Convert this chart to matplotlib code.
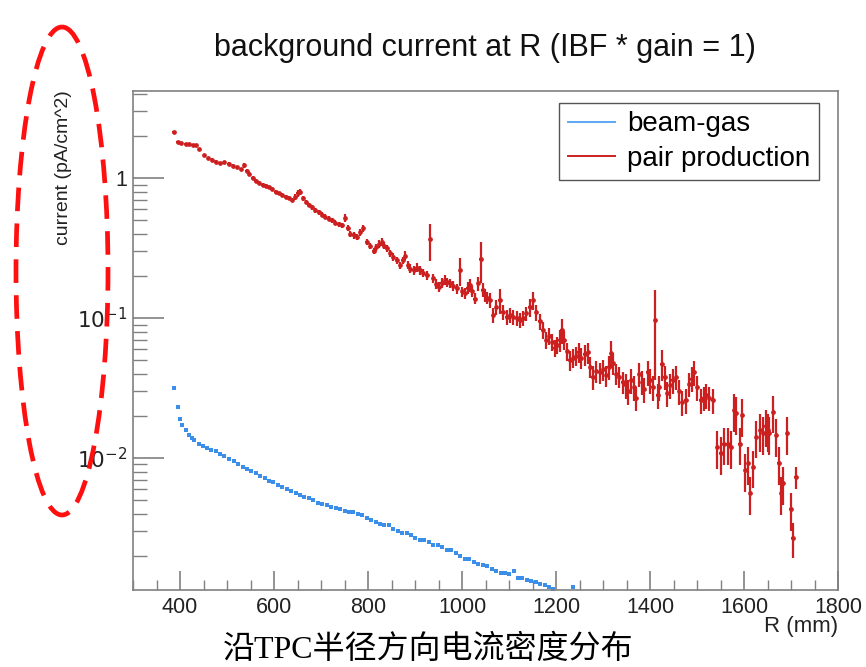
import numpy as np
import matplotlib
matplotlib.use("Agg")
import matplotlib.pyplot as plt
from matplotlib.patches import Ellipse
from matplotlib.ticker import FixedLocator, FuncFormatter, MultipleLocator

plt.rcParams['font.family'] = ['Liberation Sans', 'DejaVu Sans']

# beam-gas (blue), R in mm, current in pA/cm^2
gas_r = [388, 395, 400, 405, 412, 419, 425, 430, 440, 448,
         458, 466, 476, 485, 494, 504, 514, 523, 533, 542,
         552, 561, 570, 580, 589, 598, 608, 617, 627, 636,
         646, 655, 664, 674, 683, 693, 702, 712, 721, 731,
         740, 750, 759, 768, 778, 787, 797, 806, 816, 825,
         835, 844, 854, 863, 873, 882, 892, 901, 911, 920,
         930, 939, 949, 958, 968, 977, 987, 996, 1006, 1015,
         1025, 1034, 1044, 1053, 1063, 1072, 1082, 1091, 1100, 1110,
         1119, 1128, 1138, 1147, 1157, 1166, 1176, 1185, 1194, 1236]
gas_i = [0.0318, 0.0233, 0.0190, 0.0172, 0.0158, 0.0146, 0.0140, 0.0134, 0.0127, 0.0122,
         0.0118, 0.0115, 0.0113, 0.0107, 0.0103, 0.0099, 0.0095, 0.0091, 0.0087, 0.0084,
         0.0081, 0.0078, 0.0075, 0.0072, 0.0069, 0.0067, 0.0064, 0.0062, 0.0060, 0.0058,
         0.0056, 0.0054, 0.0053, 0.0052, 0.0050, 0.0048, 0.0047, 0.0046, 0.0045, 0.0044,
         0.0043, 0.0042, 0.0041, 0.0041, 0.0040, 0.0039, 0.0037, 0.0036, 0.0035, 0.0034,
         0.0033, 0.0033, 0.0031, 0.0030, 0.0029, 0.0029, 0.0028, 0.0027, 0.0026, 0.0026,
         0.0025, 0.0024, 0.0024, 0.0023, 0.0022, 0.0022, 0.0021, 0.0020, 0.0019, 0.0019,
         0.0018, 0.00175, 0.00172, 0.00168, 0.0016, 0.00156, 0.00152, 0.0015, 0.00148, 0.00155,
         0.0014, 0.00138, 0.00135, 0.00132, 0.0013, 0.00126, 0.00123, 0.00119, 0.00116, 0.0012]

# pair production (red) with relative errors
pair_r = [387, 395, 403, 412, 420, 428, 434, 441, 451, 460,
          468, 476, 485, 494, 504, 513, 522, 530, 536, 542,
          547, 555, 561, 568, 576, 584, 590, 596, 604, 610,
          617, 625, 632, 639, 645, 650, 656, 662, 668, 674,
          681, 688, 695, 702, 709, 716, 723, 730, 738, 745,
          752, 757, 762, 770, 777, 784, 790, 797, 805, 812,
          818, 824, 830, 835, 840, 847, 854, 861, 868, 874,
          879, 885, 890, 897, 904, 911, 918, 925, 932, 939,
          945, 950, 957, 964, 969, 974, 981, 989, 996, 1001,
          1006, 1012, 1017, 1022, 1027, 1034, 1040, 1044, 1049, 1054,
          1059, 1066, 1073, 1080, 1087, 1095, 1102, 1109, 1116, 1123,
          1130, 1137, 1144, 1151, 1158, 1165, 1172, 1179, 1186, 1192,
          1197, 1203, 1208, 1212, 1218, 1224, 1229, 1236, 1243, 1248,
          1254, 1261, 1268, 1273, 1278, 1286, 1293, 1300, 1307, 1312,
          1317, 1322, 1328, 1335, 1342, 1348, 1353, 1360, 1366, 1370,
          1377, 1383, 1388, 1395, 1400, 1406, 1411, 1416, 1420, 1425,
          1431, 1437, 1443, 1448, 1456, 1462, 1469, 1476, 1483, 1489,
          1494, 1501, 1508, 1514, 1519, 1526, 1533, 1543, 1550, 1557,
          1565, 1572, 1579, 1584, 1591, 1596, 1603, 1609, 1613, 1620,
          1626, 1635, 1641, 1646, 1650, 1654, 1662, 1669, 1674, 1679,
          1683, 1692, 1699, 1704, 1710]
pair_i = [2.14, 1.82, 1.78, 1.75, 1.76, 1.73, 1.72, 1.62, 1.46, 1.40,
          1.35, 1.31, 1.28, 1.30, 1.27, 1.23, 1.20, 1.16, 1.24, 1.13,
          1.08, 1.00, 0.96, 0.93, 0.90, 0.88, 0.86, 0.84, 0.80, 0.78,
          0.76, 0.74, 0.72, 0.70, 0.74, 0.78, 0.80, 0.72, 0.68, 0.64,
          0.62, 0.59, 0.57, 0.55, 0.53, 0.515, 0.50, 0.48, 0.47, 0.46,
          0.52, 0.44, 0.40, 0.39, 0.38, 0.41, 0.44, 0.35, 0.33, 0.30,
          0.32, 0.34, 0.35, 0.33, 0.315, 0.29, 0.274, 0.26, 0.239, 0.26,
          0.28, 0.24, 0.226, 0.22, 0.23, 0.22, 0.21, 0.203, 0.365, 0.192,
          0.175, 0.167, 0.178, 0.187, 0.18, 0.177, 0.17, 0.163, 0.22, 0.155,
          0.15, 0.165, 0.172, 0.155, 0.138, 0.177, 0.264, 0.16, 0.146, 0.14,
          0.134, 0.105, 0.12, 0.134, 0.11, 0.102, 0.105, 0.102, 0.10, 0.097,
          0.10, 0.108, 0.12, 0.134, 0.11, 0.095, 0.082, 0.070, 0.075, 0.068,
          0.061, 0.064, 0.07, 0.082, 0.070, 0.058, 0.050, 0.052, 0.054, 0.057,
          0.052, 0.055, 0.057, 0.045, 0.038, 0.042, 0.041, 0.043, 0.039, 0.045,
          0.056, 0.048, 0.040, 0.038, 0.035, 0.033, 0.030, 0.036, 0.032, 0.027,
          0.040, 0.035, 0.031, 0.041, 0.036, 0.032, 0.097, 0.028, 0.032, 0.047,
          0.038, 0.029, 0.033, 0.036, 0.038, 0.030, 0.025, 0.026, 0.034, 0.037,
          0.041, 0.032, 0.026, 0.027, 0.028, 0.027, 0.026, 0.012, 0.0108, 0.0127,
          0.0127, 0.012, 0.022, 0.021, 0.0127, 0.0203, 0.0082, 0.0092, 0.0056, 0.0087,
          0.0142, 0.0158, 0.015, 0.017, 0.0158, 0.015, 0.0214, 0.0146, 0.0092, 0.0056,
          0.0066, 0.015, 0.0043, 0.0027, 0.0073]
pair_relerr = [0.02, 0.02, 0.02, 0.02, 0.02, 0.02, 0.02, 0.02, 0.02, 0.02,
               0.025, 0.025, 0.025, 0.025, 0.025, 0.025, 0.025, 0.025, 0.04, 0.025,
               0.03, 0.03, 0.03, 0.03, 0.03, 0.03, 0.03, 0.03, 0.03, 0.03,
               0.03, 0.03, 0.03, 0.035, 0.05, 0.06, 0.05, 0.04, 0.035, 0.035,
               0.04, 0.04, 0.04, 0.04, 0.04, 0.04, 0.04, 0.04, 0.04, 0.04,
               0.06, 0.045, 0.05, 0.05, 0.05, 0.05, 0.06, 0.05, 0.05, 0.05,
               0.06, 0.06, 0.06, 0.06, 0.06, 0.06, 0.06, 0.06, 0.06, 0.06,
               0.07, 0.07, 0.07, 0.07, 0.07, 0.07, 0.07, 0.07, 0.30, 0.07,
               0.08, 0.08, 0.08, 0.08, 0.08, 0.08, 0.08, 0.08, 0.23, 0.08,
               0.09, 0.10, 0.10, 0.09, 0.09, 0.12, 0.33, 0.12, 0.10, 0.10,
               0.12, 0.12, 0.12, 0.20, 0.12, 0.12, 0.12, 0.12, 0.12, 0.12,
               0.12, 0.12, 0.15, 0.15, 0.13, 0.13, 0.14, 0.14, 0.14, 0.14,
               0.14, 0.14, 0.18, 0.20, 0.15, 0.15, 0.16, 0.16, 0.16, 0.16,
               0.17, 0.17, 0.17, 0.17, 0.20, 0.18, 0.17, 0.17, 0.17, 0.20,
               0.22, 0.18, 0.17, 0.17, 0.18, 0.20, 0.20, 0.20, 0.20, 0.20,
               0.20, 0.20, 0.20, 0.20, 0.20, 0.20, 0.63, 0.20, 0.20, 0.25,
               0.20, 0.20, 0.20, 0.20, 0.20, 0.20, 0.20, 0.20, 0.20, 0.20,
               0.20, 0.20, 0.20, 0.20, 0.20, 0.20, 0.20, 0.30, 0.30, 0.30,
               0.30, 0.30, 0.30, 0.30, 0.30, 0.30, 0.30, 0.30, 0.30, 0.30,
               0.30, 0.30, 0.30, 0.30, 0.30, 0.30, 0.30, 0.30, 0.30, 0.30,
               0.30, 0.30, 0.30, 0.28, 0.18]

x_ticks = [400, 600, 800, 1000, 1200, 1400, 1600, 1800]
y_ticks = [0.01, 0.1, 1]
y_ticklabels = ["$10^{-2}$", "$10^{-1}$", "1"]

RED = "#cc2020"
BLUE = "#3b8fe8"
FRAME = "#808080"

fig = plt.figure(figsize=(8.66, 6.67), dpi=100)
ax = fig.add_axes([133 / 866, 1 - 590 / 667, 705 / 866, 499 / 667])

pair_i = np.array(pair_i)
pair_err = pair_i * np.array(pair_relerr)
ax.errorbar(pair_r, pair_i, yerr=pair_err, xerr=3, fmt='o', ms=2.4,
            color=RED, ecolor=RED, elinewidth=1.6, capsize=0, zorder=3)
ax.plot(gas_r, gas_i, 's', ms=2.2, color=BLUE, mew=0, zorder=2)

ax.set_yscale('log')
ax.set_xlim(300, 1800)
ax.set_ylim(0.00114, 4.2)

ax.xaxis.set_major_locator(FixedLocator(x_ticks))
ax.xaxis.set_minor_locator(MultipleLocator(50))
ax.yaxis.set_major_locator(FixedLocator(y_ticks))
ax.yaxis.set_major_formatter(FuncFormatter(
    lambda v, p: dict(zip(y_ticks, y_ticklabels)).get(round(v, 6), "")))
ax.yaxis.set_minor_locator(matplotlib.ticker.LogLocator(base=10, subs=np.arange(2, 10)))
ax.yaxis.set_minor_formatter(matplotlib.ticker.NullFormatter())

ax.tick_params(axis='both', which='both', direction='in', color=FRAME,
               labelcolor='#222222', labelsize=15.5, top=False, right=False)
ax.tick_params(axis='x', which='major', length=14, width=1.2, pad=5)
ax.tick_params(axis='x', which='minor', length=7, width=1.0)
ax.tick_params(axis='y', which='major', length=22, width=1.2, pad=4)
ax.tick_params(axis='y', which='minor', length=10, width=1.0)
for s in ax.spines.values():
    s.set_color(FRAME)
    s.set_linewidth(1.2)

leg_handles = [plt.Line2D([], [], color="#5aa8f5", lw=1.4),
               plt.Line2D([], [], color=RED, lw=1.4)]
leg = ax.legend(leg_handles, ["beam-gas", "pair production"], loc='upper right',
                bbox_to_anchor=(0.973, 0.976), borderaxespad=0, fancybox=False,
                fontsize=20, handlelength=1.7, handletextpad=0.45, framealpha=1,
                edgecolor='#555555', labelspacing=0.3, borderpad=0.3)
leg.get_frame().set_linewidth(1.0)

fig.text(485 / 866, 1 - 48 / 667, "background current at R (IBF * gain = 1)",
         ha='center', va='center', fontsize=22, color='#111111')
fig.text(64 / 866, 1 - 90 / 667, "current (pA/cm^2)", rotation=90,
         ha='center', va='top', fontsize=14, color='#222222')
fig.text(838 / 866, 1 - 616 / 667, "R (mm)", ha='right', va='top',
         fontsize=16, color='#222222')
fig.text(428 / 866, 1 - 650 / 667, "沿TPC半径方向电流密度分布", ha='center',
         va='center', fontsize=23, color='black',
         family=['Liberation Serif', 'Noto Sans CJK SC'])

# red dashed highlight around the y label
over = fig.add_axes([0, 0, 1, 1], facecolor='none')
over.set_xlim(0, 866)
over.set_ylim(667, 0)
over.axis('off')
over.add_patch(Ellipse((62, 271), 92, 488, fill=False, edgecolor='#ff1010',
                       lw=3.4, linestyle=(0, (5, 2.6))))

fig.savefig("out.png", dpi=100)
